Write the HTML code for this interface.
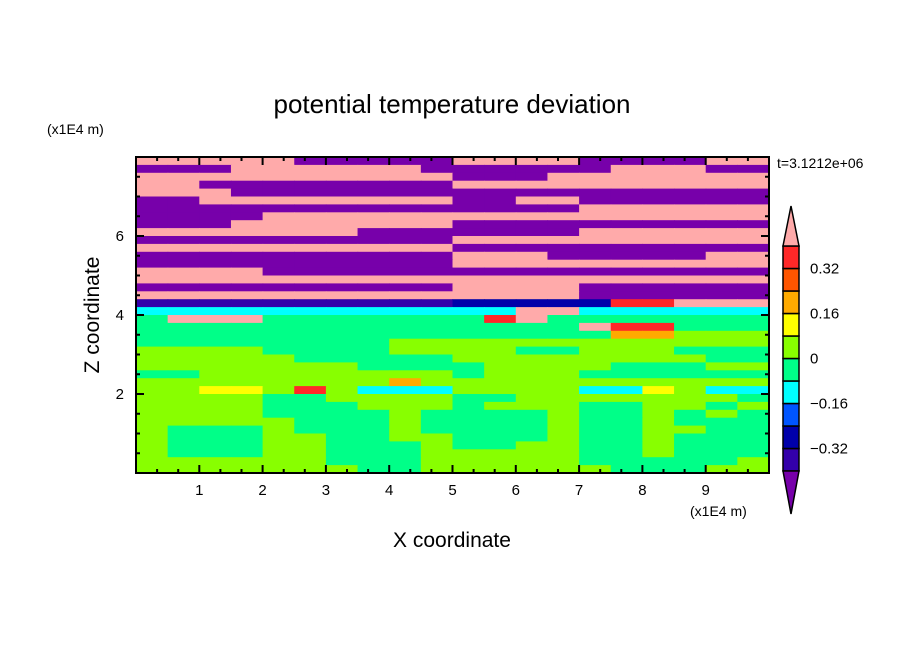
<!DOCTYPE html>
<html><head><meta charset="utf-8"><style>
html,body{margin:0;padding:0;background:#fff;}
svg{display:block;font-family:"Liberation Sans","DejaVu Sans",sans-serif;}
</style></head><body>
<svg id="chart" width="904" height="654" viewBox="0 0 904 654">
<text x="452" y="113" text-anchor="middle" font-size="26" fill="#000">potential temperature deviation</text>
<text x="47" y="134" font-size="14" fill="#000">(x1E4 m)</text>
<text x="777" y="168" font-size="14" fill="#000">t=3.1212e+06</text>
<text x="690" y="516" font-size="14" fill="#000">(x1E4 m)</text>
<text x="452" y="547" text-anchor="middle" font-size="21" fill="#000">X coordinate</text>
<text x="0" y="0" transform="translate(99,315) rotate(-90)" text-anchor="middle" font-size="21" fill="#000">Z coordinate</text>
<g id="field"></g>
<g id="axes"></g>
<g id="cbar"></g>
</svg>
<script>
// Data arrays
const xTicks = [1,2,3,4,5,6,7,8,9];
const zTicks = [2,4,6];
const levels = [-0.4,-0.32,-0.24,-0.16,-0.08,0,0.08,0.16,0.24,0.32,0.4];
const levelColors = ["#7700aa","#3300aa","#0000aa","#0055ff","#00ffff","#00ff88","#88ff00","#ffff00","#ffaa00","#ff5500","#ff2828","#ffaaaa"];
const cbarLabels = [0.32,0.16,0,-0.16,-0.32];
const cbarLabelText = ["0.32","0.16","0","\u22120.16","\u22120.32"];
const codeValues = {K:0.45,R:0.34,X:0.27,O:0.2,Y:0.12,L:0.04,G:-0.04,C:-0.12,B:-0.2,D:-0.28,N:-0.36,P:-0.45};
// rows from top (z=8) to bottom (z=0), 20 columns across x=0..10
const fieldRows = [
"KKKKKPPPPPKKKKPPPPKK",
"PPPKKKKKKPPPPPPKKKPP",
"KKKKKKKKKKPPPKKKKKKK",
"KKPPPPPPPPKKKKKKKKKK",
"KKKPPPPPPPPPPPPPPPPP",
"PPKKKKKKKKPPKKPPPPPP",
"PPPPPPPPPPPPPPKKKKKK",
"PPPPKKKKKKKKKKKKKKKK",
"PPPKKKKKKKPPPPPPPPPP",
"KKKKKKKPPPPPPPKKKKKK",
"PPPPPPPPPPKKKKKKKKKK",
"KKKKKKKKKKPPPPPPPPPP",
"PPPPPPPPPPKKKPPPPPKK",
"PPPPPPPPPPKKKKKKKKKK",
"KKKKPPPPPPPPPPPPPPPP",
"KKKKKKKKKKKKKKKKKKKK",
"PPPPPPPPPPKKKKPPPPPP",
"KKKKKKKKKKKKKKPPPPPP",
"NNNNNNNNNNDDDDDRRKKK",
"CCCCCCCCCCCCKKCCCCCC",
"GKKKGGGGGGGRKGGGGGGG",
"GGGGGGGGGGGGGGKRRGGG",
"GGGGGGGGGGGGGGGOOLLL",
"GGGGGGGGLLLLLLLLLLLL",
"LLLLGGGGLLLLGGLLLGGG",
"LLLLLGGGGGLLLLLLLLGG",
"LLLLLLLGGGGLLLLGGGLL",
"GGLLLLLLLLGLLLGGGGGG",
"LLLLLLLLOLLLLLLLLLLL",
"LLYYLRLCCCLLLLCCYLCC",
"LLLLGGLLLLGGLLLLLLLG",
"LLLLGGGLLLGLLLGGLLGL",
"LLLLGGGGLGGGGLGGLGLG",
"LLLLLGGGLGGGGLGGLGGG",
"LGGGLGGGLGGGGLGGLLGG",
"LGGGLLGGLLGGGLGGLGGG",
"LGGGLLGGGLGGLLGGLGGG",
"LGGGLLGGGLLLLLGGLGGG",
"LLLLLLGGGLLLLLGGGGGL",
"LLLLLLLGGLLLLLLGGGLL"
];
</script>
<script>
const NS="http://www.w3.org/2000/svg";
const X0=136,X1=769,Y0=157,Y1=473;
const xs=v=>X0+(v/10)*(X1-X0);
const zs=v=>Y1-(v/8)*(Y1-Y0);
function colorOf(v){let i=0;while(i<levels.length&&v>=levels[i])i++;return levelColors[i];}
function mk(tag,attrs,parent){const e=document.createElementNS(NS,tag);for(const k in attrs)e.setAttribute(k,attrs[k]);parent.appendChild(e);return e;}
const field=document.getElementById('field');
const nr=fieldRows.length;
fieldRows.forEach((row,r)=>{
  const nc=row.length;
  for(let c=0;c<nc;c++){
    const v=codeValues[row[c]];
    const x=xs(c*10/nc), x2=xs((c+1)*10/nc);
    const y=zs(8-r*8/nr), y2=zs(8-(r+1)*8/nr);
    const el=mk('rect',{x:x,y:y,width:x2-x+0.6,height:y2-y+0.6,fill:colorOf(v)},field);
    
    
  }
});
const axes=document.getElementById('axes');
const frame=mk('rect',{x:X0,y:Y0,width:X1-X0,height:Y1-Y0,fill:'none',stroke:'#000','stroke-width':2},axes);


// minor ticks
for(let k=1;k<30;k++){const v=k/3;const x=xs(v);const L=(k%3===0)?8:4;
  mk('line',{x1:x,y1:Y1,x2:x,y2:Y1-L,stroke:'#000','stroke-width':2},axes);
  mk('line',{x1:x,y1:Y0,x2:x,y2:Y0+L,stroke:'#000','stroke-width':2},axes);}
for(let k=1;k<16;k++){const v=k/2;const y=zs(v);const L=(k%4===0)?8:4;
  mk('line',{x1:X0,y1:y,x2:X0+L,y2:y,stroke:'#000','stroke-width':2},axes);
  mk('line',{x1:X1,y1:y,x2:X1-L,y2:y,stroke:'#000','stroke-width':2},axes);}
xTicks.forEach(t=>{const el=mk('text',{x:xs(t),y:Y1+22,'text-anchor':'middle','font-size':15},axes);el.textContent=t;
  
  });
zTicks.forEach(t=>{const el=mk('text',{x:X0-12,y:zs(t)+5,'text-anchor':'end','font-size':15},axes);el.textContent=t;
  
  });
// colorbar
const cb=document.getElementById('cbar');
const CX0=783,CX1=799,CB0=246,CB1=471;
const cs=v=>CB1-(v-levels[0])/(levels[levels.length-1]-levels[0])*(CB1-CB0);
for(let i=0;i<levels.length-1;i++){
  const el=mk('rect',{x:CX0,y:cs(levels[i+1]),width:CX1-CX0,height:cs(levels[i])-cs(levels[i+1]),fill:levelColors[i+1],stroke:'#000','stroke-width':1.5},cb);
  
  
}
const tt=mk('polygon',{points:`${CX0},${CB0} ${CX1},${CB0} ${(CX0+CX1)/2},206`,fill:levelColors[levelColors.length-1],stroke:'#000','stroke-width':1.5},cb);


const bt=mk('polygon',{points:`${CX0},${CB1} ${CX1},${CB1} ${(CX0+CX1)/2},514`,fill:levelColors[0],stroke:'#000','stroke-width':1.5},cb);


cbarLabels.forEach((v,i)=>{const el=mk('text',{x:810,y:cs(v)+5,'font-size':15},cb);el.textContent=cbarLabelText[i];
  
  });
</script>
</body></html>
